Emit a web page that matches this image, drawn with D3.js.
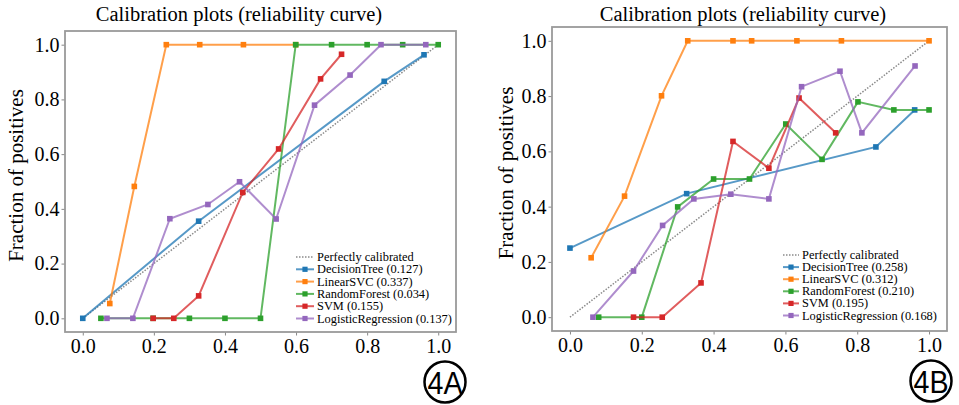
<!DOCTYPE html>
<html>
<head>
<meta charset="utf-8">
<script src="https://cdn.jsdelivr.net/npm/d3@7"></script>
<style>
  body { margin: 0; background: #fff; }
</style>
</head>
<body>
<div id="graph"></div>
<script>
// values
const seriesNames = ["DecisionTree", "LinearSVC", "RandomForest", "SVM", "LogisticRegression"];
const seriesColors = ["#1f77b4", "#ff7f0e", "#2ca02c", "#d62728", "#9467bd"];
const brierA = ["0.127", "0.337", "0.034", "0.155", "0.137"];
const brierB = ["0.258", "0.312", "0.210", "0.195", "0.168"];
const tickValues = [0, 0.2, 0.4, 0.6, 0.8, 1.0];
const tickLabels = ["0.0", "0.2", "0.4", "0.6", "0.8", "1.0"];
const panelTags = ["4A", "4B"];

// panel 4A
const treeA = [[0, 0], [0.326, 0.355], [0.848, 0.866], [0.96, 0.963]];
const svcA = [[0.076, 0.054], [0.145, 0.482], [0.235, 1], [0.329, 1], [0.452, 1], [0.599, 1]];
const forestA = [[0.051, 0], [0.198, 0], [0.30, 0], [0.40, 0], [0.50, 0], [0.599, 1], [0.70, 1], [0.80, 1], [0.90, 1], [1.0, 1]];
const svmA = [[0.198, 0], [0.256, 0], [0.326, 0.082], [0.450, 0.46], [0.551, 0.619], [0.669, 0.875], [0.728, 0.965]];
const logregA = [[0.068, 0], [0.141, 0], [0.245, 0.364], [0.352, 0.416], [0.441, 0.499], [0.544, 0.363], [0.652, 0.779], [0.752, 0.889], [0.839, 1], [0.965, 1]];

// panel 4B
const treeB = [[0, 0.25], [0.325, 0.447], [0.852, 0.616], [0.96, 0.75]];
const svcB = [[0.059, 0.215], [0.152, 0.438], [0.255, 0.801], [0.328, 1], [0.454, 1], [0.506, 1], [0.632, 1], [0.756, 1], [1.0, 1]];
const forestB = [[0.080, 0], [0.20, 0], [0.30, 0.399], [0.40, 0.5], [0.50, 0.5], [0.601, 0.699], [0.702, 0.571], [0.802, 0.779], [0.902, 0.75], [1.0, 0.75]];
const svmB = [[0.177, 0], [0.257, 0], [0.365, 0.124], [0.454, 0.636], [0.554, 0.539], [0.638, 0.793], [0.740, 0.667]];
const logregB = [[0.064, 0], [0.177, 0.167], [0.258, 0.332], [0.345, 0.428], [0.448, 0.445], [0.554, 0.428], [0.645, 0.834], [0.752, 0.89], [0.813, 0.667], [0.961, 0.909]];

const width = 959;
const height = 405;
const serif = "Liberation Serif";

const svg = d3.select("#graph")
    .append("svg")
    .attr("width", width)
    .attr("height", height);

const panels = [
    { box: {left: 65, right: 456, top: 31, bottom: 332}, titleX: 239, ylabelX: 16,
      legend: {x: 296, y: 257, line: 18, step: 12.3}, tag: {x: 445, y: 382},
      scores: brierA, series: [treeA, svcA, forestA, svmA, logregA] },
    { box: {left: 552, right: 947, top: 27, bottom: 331}, titleX: 743, ylabelX: 506,
      legend: {x: 783, y: 255, line: 16, step: 12.1}, tag: {x: 931, y: 381},
      scores: brierB, series: [treeB, svcB, forestB, svmB, logregB] }
];

panels.forEach((p, k) => drawPanel(p, k));

function styleAxis(ax) {
    ax.select(".domain").remove();
    ax.selectAll("line").attr("stroke", "#888");
    ax.selectAll("text")
        .attr("font-size", "20px")
        .attr("fill", "#000")
        .attr("font-family", serif);
}

function drawPanel(p, k) {
    const b = p.box;
    const g = svg.append("g");

    const x = d3.scaleLinear().domain([-0.05, 1.05]).range([b.left, b.right]);
    const y = d3.scaleLinear().domain([-0.05, 1.05]).range([b.bottom, b.top]);

    g.append("g")
        .attr("transform", `translate(0, ${b.bottom})`)
        .call(d3.axisBottom(x).tickValues(tickValues).tickFormat((d, i) => tickLabels[i]).tickSize(3.5).tickPadding(3))
        .call(styleAxis);

    g.append("g")
        .attr("transform", `translate(${b.left}, 0)`)
        .call(d3.axisLeft(y).tickValues(tickValues).tickFormat((d, i) => tickLabels[i]).tickSize(3.5).tickPadding(2))
        .call(styleAxis);

    // perfectly calibrated
    g.append("line")
        .attr("x1", x(0)).attr("y1", y(0))
        .attr("x2", x(1)).attr("y2", y(1))
        .attr("stroke", "#8a8a8a")
        .attr("stroke-width", 1.5)
        .attr("stroke-dasharray", "1.5,1.5");

    const line = d3.line().x(d => x(d[0])).y(d => y(d[1]));

    p.series.forEach((pts, i) => {
        g.append("path")
            .datum(pts)
            .attr("d", line)
            .attr("fill", "none")
            .attr("stroke", seriesColors[i])
            .attr("stroke-opacity", 0.75)
            .attr("stroke-width", 2);
        g.selectAll(null)
            .data(pts)
            .join("rect")
            .attr("x", d => x(d[0]) - 2.8)
            .attr("y", d => y(d[1]) - 2.8)
            .attr("width", 5.6)
            .attr("height", 5.6)
            .attr("fill", seriesColors[i]);
    });

    // frame
    g.append("rect")
        .attr("x", b.left).attr("y", b.top)
        .attr("width", b.right - b.left).attr("height", b.bottom - b.top)
        .attr("fill", "none")
        .attr("stroke", "#9a9a9a")
        .attr("stroke-width", 1.8);

    g.append("text")
        .attr("x", p.titleX).attr("y", 21)
        .attr("text-anchor", "middle")
        .attr("font-family", serif)
        .attr("font-size", "20.5px")
        .text("Calibration plots (reliability curve)");

    g.append("text")
        .attr("transform", `translate(${p.ylabelX}, ${(b.top + b.bottom) / 2 - 6}) rotate(-90)`)
        .attr("text-anchor", "middle")
        .attr("dominant-baseline", "central")
        .attr("font-family", serif)
        .attr("font-size", "21px")
        .text("Fraction of positives");

    // legend
    const L = p.legend;
    const lg = g.append("g").attr("transform", `translate(${L.x}, ${L.y})`);
    lg.append("line")
        .attr("x1", 0).attr("x2", L.line).attr("y1", 0).attr("y2", 0)
        .attr("stroke", "#8a8a8a").attr("stroke-width", 1.5)
        .attr("stroke-dasharray", "1.5,1.5");
    lg.append("text")
        .attr("x", L.line + 3).attr("y", 0)
        .attr("dominant-baseline", "central")
        .attr("font-family", serif)
        .attr("font-size", "12.4px")
        .text("Perfectly calibrated");
    seriesNames.forEach((name, i) => {
        const yy = L.step * (i + 1);
        lg.append("line")
            .attr("x1", 0).attr("x2", L.line).attr("y1", yy).attr("y2", yy)
            .attr("stroke", seriesColors[i]).attr("stroke-opacity", 0.75).attr("stroke-width", 2);
        lg.append("rect")
            .attr("x", L.line / 2 - 2.6).attr("y", yy - 2.6)
            .attr("width", 5.2).attr("height", 5.2)
            .attr("fill", seriesColors[i]);
        lg.append("text")
            .attr("x", L.line + 3).attr("y", yy)
            .attr("dominant-baseline", "central")
            .attr("font-family", serif)
            .attr("font-size", "12.4px")
            .text(`${name} (${p.scores[i]})`);
    });

    // panel tag
    g.append("circle")
        .attr("cx", p.tag.x).attr("cy", p.tag.y).attr("r", 20.5)
        .attr("fill", "#fff")
        .attr("stroke", "#000")
        .attr("stroke-width", 2.5);
    g.append("text")
        .attr("x", p.tag.x).attr("y", p.tag.y + 1)
        .attr("text-anchor", "middle")
        .attr("dominant-baseline", "central")
        .attr("font-family", "Liberation Sans")
        .attr("font-size", "31px")
        .attr("textLength", 35)
        .attr("lengthAdjust", "spacingAndGlyphs")
        .text(panelTags[k]);
}
</script>
</body>
</html>
